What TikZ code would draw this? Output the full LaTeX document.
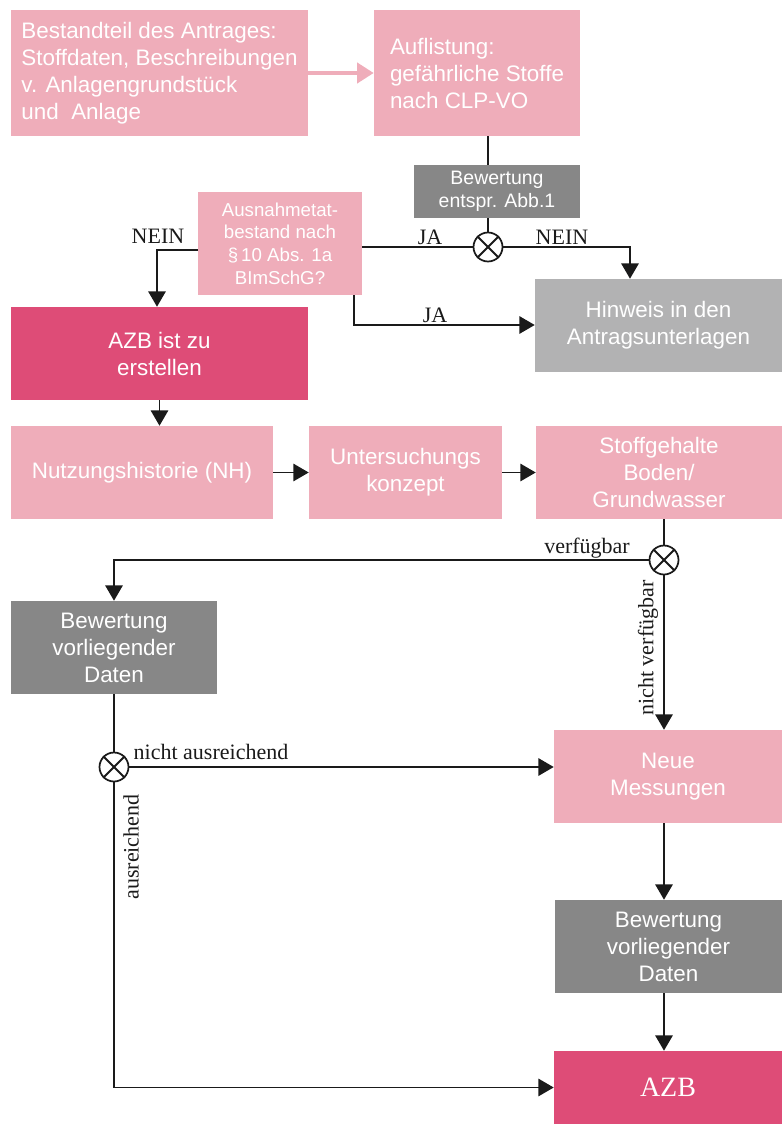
\documentclass[tikz,border=0pt]{standalone}
\usepackage{fontspec}
\setmainfont{Liberation Sans}
\newfontfamily\lserif{Liberation Serif}
\usetikzlibrary{arrows.meta}
\definecolor{lpink}{HTML}{EFADBA}
\definecolor{dpink}{HTML}{DE4C77}
\definecolor{dgray}{HTML}{878787}
\definecolor{lgray}{HTML}{B2B2B3}
\definecolor{ink}{HTML}{1A1A1A}
\tikzset{
  box/.style={rectangle, inner sep=0pt, text=white, align=center,
    font=\fontsize{16.8pt}{20.25pt}\selectfont},
  pinkbox/.style={box, fill=lpink},
  darkbox/.style={box, fill=dpink},
  graybox/.style={box, fill=dgray},
  lgraybox/.style={box, fill=lgray},
  junc/.style={circle, draw=ink, line width=1.3pt, fill=white, minimum size=29*0.75pt, inner sep=0pt},
  conn/.style={draw=ink, line width=1.35pt},
  arr/.style={conn, -{Triangle[width=13pt,length=11.5pt]}},
  lab/.style={font=\lserif\fontsize{16.5pt}{18pt}\selectfont, text=ink, inner sep=0pt},
}
\newcommand{\junccross}[1]{\draw[conn] (#1.45) -- (#1.225); \draw[conn] (#1.135) -- (#1.315);}
\begin{document}
\begin{tikzpicture}[x=0.75pt, y=-0.75pt]
\useasboundingbox (0,0) rectangle (782,1124);

% boxes
\node[pinkbox, align=left, minimum width=297*0.75pt, minimum height=126*0.75pt] (b1) at (159.5,73)
  {Bestandteil des Antrages:\\Stoffdaten, Beschreibungen\\v. Anlagengrundstück\\und\ \ Anlage};
\node[pinkbox, align=left, minimum width=206*0.75pt, minimum height=126*0.75pt] (b2) at (477,73)
  {Auflistung:\\gefährliche Stoffe\\nach CLP-VO};
\node[graybox, minimum width=166*0.75pt, minimum height=53*0.75pt, font=\fontsize{14.6pt}{17.25pt}\selectfont] (b3) at (497,191.5)
  {Bewertung\\entspr. Abb.1};
\node[pinkbox, minimum width=164*0.75pt, minimum height=103*0.75pt, font=\fontsize{14pt}{17pt}\selectfont] (b4) at (280,243.5)
  {Ausnahmetat-\\bestand nach\\§\,10 Abs. 1a\\BImSchG?};
\node[lgraybox, minimum width=247*0.75pt, minimum height=93*0.75pt] (b5) at (658.5,325.5)
  {Hinweis in den\\Antragsunterlagen};
\node[darkbox, minimum width=297*0.75pt, minimum height=93*0.75pt] (b6) at (159.5,353.5)
  {AZB ist zu\\erstellen};
\node[pinkbox, minimum width=262*0.75pt, minimum height=93*0.75pt] (b7) at (142,472.5)
  {Nutzungshistorie (NH)};
\node[pinkbox, minimum width=193*0.75pt, minimum height=93*0.75pt] (b8) at (405.5,472.5)
  {Untersuchungs\\konzept};
\node[pinkbox, minimum width=246*0.75pt, minimum height=93*0.75pt] (b9) at (659,472.5)
  {Stoffgehalte\\Boden/\\Grundwasser};
\node[graybox, minimum width=206*0.75pt, minimum height=93*0.75pt] (b10) at (114,647.5)
  {Bewertung\\vorliegender\\Daten};
\node[pinkbox, minimum width=228*0.75pt, minimum height=93*0.75pt] (b11) at (668,776.5)
  {Neue\\Messungen};
\node[graybox, minimum width=227*0.75pt, minimum height=93*0.75pt] (b12) at (668.5,946.5)
  {Bewertung\\vorliegender\\Daten};
\node[darkbox, minimum width=228*0.75pt, minimum height=73*0.75pt, font=\lserif\fontsize{21pt}{24pt}\selectfont] (b13) at (668,1087.5)
  {AZB};

% junctions
\node[junc] (j1) at (488,247) {};
\node[junc] (j2) at (664,560) {};
\node[junc] (j3) at (114,767) {};

% thick pink arrow
\draw[draw=lpink, line width=3.4pt, -{Triangle[width=15pt,length=12.5pt]}] (b1.east) -- (b2.west);

% coordinates
\coordinate (nr) at (630,247);
\coordinate (nl) at (157,250);
\coordinate (jb) at (354,325);

% connectors
\draw[conn] (b2.south -| j1) -- (b3.north -| j1);
\draw[conn] (b3.south -| j1) -- (j1.north);
\draw[conn] (b4.east |- j1) -- (j1.west);
\draw[arr] (j1.east) -- (nr) -- (nr |- b5.north);
\draw[arr] (b4.west |- nl) -- (nl) -- (nl |- b6.north);
\draw[arr] (b4.south -| jb) -- (jb) -- (b5.west |- jb);
\draw[arr] (b6.south) -- (b6.south |- b7.north);
\draw[arr] (b7.east) -- (b8.west);
\draw[arr] (b8.east) -- (b9.west);
\draw[conn] (b9.south -| j2) -- (j2.north);
\draw[arr] (j2.west) -- (b10.north |- j2) -- (b10.north);
\draw[arr] (j2.south) -- (j2 |- b11.north);
\draw[conn] (b10.south -| j3) -- (j3.north);
\draw[arr] (j3.east) -- (b11.west |- j3);
\draw[arr] (j3.south) -- (j3 |- b13.west) -- (b13.west);
\draw[arr] (b11.south -| j2) -- (b12.north -| j2);
\draw[arr] (b12.south -| j2) -- (b13.north -| j2);

\junccross{j1}
\junccross{j2}
\junccross{j3}

% labels
\node[lab] (l1) at (158,236) {NEIN};
\node[lab] (l2) at (430,237) {JA};
\node[lab] (l3) at (562,237) {NEIN};
\node[lab] (l4) at (435,315) {JA};
\node[lab] (l5) at (587,548) {verfügbar};
\node[lab, rotate=90] (l6) at (648,648) {nicht verfügbar};
\node[lab] (l7) at (211,752) {nicht ausreichend};
\node[lab, rotate=90] (l8) at (131,847) {ausreichend};
\end{tikzpicture}
\end{document}
